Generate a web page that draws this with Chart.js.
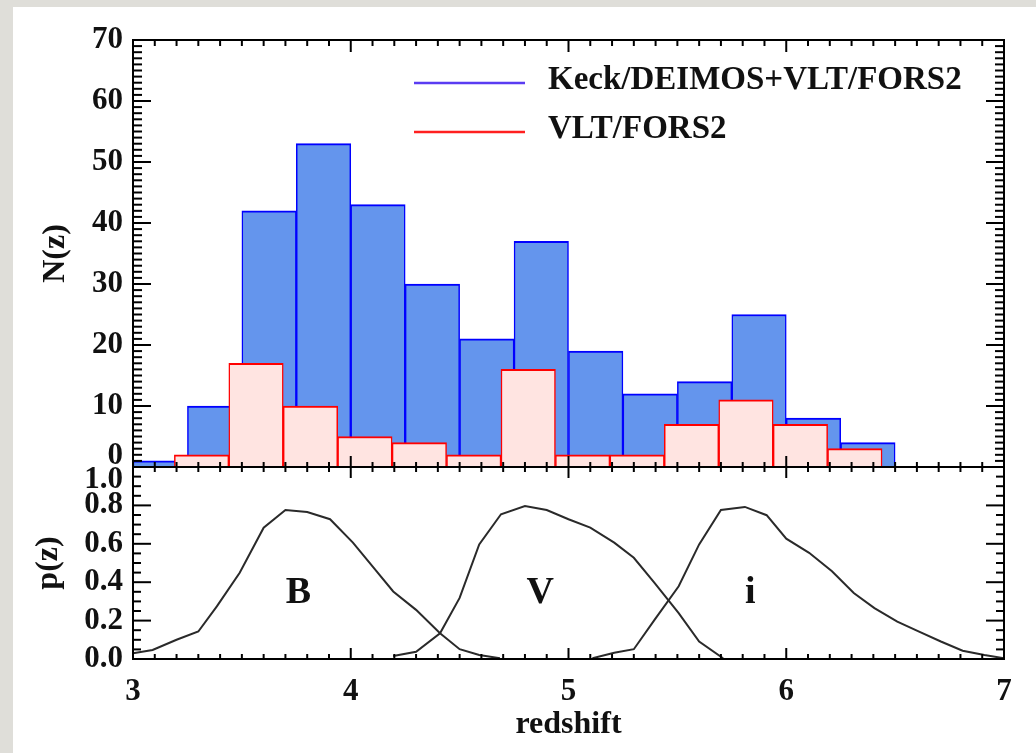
<!DOCTYPE html>
<html>
<head>
<meta charset="utf-8">
<title>N(z) and p(z)</title>
<script src="https://cdn.jsdelivr.net/npm/chart.js@4.4.1/dist/chart.umd.min.js"></script>
<style>
  html, body { margin: 0; padding: 0; background: #dfded9; }
  #wrap { position: relative; width: 1036px; height: 753px; }
</style>
</head>
<body>
<div id="wrap"><canvas id="nz" width="1036" height="753"></canvas></div>
<script>
// Histogram: all spectroscopic redshifts (bin centres, width 0.25)
const allBinCentres = [3.125, 3.375, 3.625, 3.875, 4.125, 4.375, 4.625, 4.875, 5.125, 5.375, 5.625, 5.875, 6.125, 6.375];
const allCounts     = [1, 10, 42, 53, 43, 30, 21, 37, 19, 12, 14, 25, 8, 4];

// Histogram: VLT/FORS2 only (bins shifted a little)
const forsBinCentres = [3.315, 3.565, 3.815, 4.065, 4.315, 4.565, 4.815, 5.065, 5.315, 5.565, 5.815, 6.065, 6.315];
const forsCounts     = [2, 17, 10, 5, 4, 2, 16, 2, 2, 7, 11, 7, 3];

// Selection functions p(z) for the B, V and i dropouts
const bZ = [3.00, 3.09, 3.20, 3.30, 3.385, 3.49, 3.60, 3.70, 3.80, 3.905, 4.01, 4.10, 4.195, 4.30, 4.41, 4.50, 4.59, 4.685];
const bP = [0.03, 0.047, 0.10, 0.143, 0.274, 0.449, 0.684, 0.776, 0.766, 0.728, 0.606, 0.483, 0.352, 0.256, 0.134, 0.051, 0.021, 0.004];
const vZ = [4.195, 4.30, 4.41, 4.50, 4.59, 4.69, 4.80, 4.90, 5.00, 5.10, 5.21, 5.30, 5.395, 5.506, 5.60, 5.71];
const vP = [0.016, 0.038, 0.134, 0.318, 0.597, 0.754, 0.797, 0.776, 0.728, 0.684, 0.606, 0.527, 0.396, 0.239, 0.091, 0.004];
const iZ = [5.11, 5.21, 5.30, 5.395, 5.506, 5.60, 5.70, 5.81, 5.91, 6.00, 6.105, 6.21, 6.31, 6.405, 6.51, 6.61, 6.71, 6.81, 6.91, 7.00];
const iP = [0.004, 0.033, 0.051, 0.204, 0.379, 0.597, 0.776, 0.792, 0.749, 0.627, 0.553, 0.457, 0.344, 0.265, 0.195, 0.143, 0.091, 0.043, 0.021, 0.004];

// filter names written next to their curves (z, p of text baseline)
const filterNames = ['B', 'V', 'i'];
const filterNameZ = [3.76, 4.87, 5.835];
const filterNameP = [0.293, 0.293, 0.293];

// tick values
const xTickValues = [3, 4, 5, 6, 7];
const nTickValues = [0, 10, 20, 30, 40, 50, 60, 70];
const pTickValues = [0, 0.2, 0.4, 0.6, 0.8, 1.0];

const FONT = "'Liberation Serif', 'Times New Roman', serif";
const INK = '#111';
const legendColors = ['#5a3cf2', '#ff2020'];

function pairs(xs, ys) {
  return xs.map((x, i) => ({ x, y: ys[i] }));
}

function setTicks(values) {
  return scale => { scale.ticks = values.map(v => ({ value: v })); };
}

// grey page with the white card behind the figure
const paperPlugin = {
  id: 'paper',
  beforeDraw(chart) {
    const { ctx, width, height } = chart;
    ctx.save();
    ctx.fillStyle = '#dfded9';
    ctx.fillRect(0, 0, width, height);
    ctx.fillStyle = '#ffffff';
    ctx.fillRect(13, 7, width - 13, height - 7);
    ctx.restore();
  }
};

// box round both panels, with major and minor tick marks on every side
const framePlugin = {
  id: 'frame',
  afterDatasetsDraw(chart) {
    const { ctx, chartArea: a, scales } = chart;
    const x = scales.x, yN = scales.yN, yP = scales.yP;
    const mid = yN.bottom;
    const seg = (x0, y0, x1, y1) => { ctx.beginPath(); ctx.moveTo(x0, y0); ctx.lineTo(x1, y1); ctx.stroke(); };
    ctx.save();
    ctx.strokeStyle = '#000';
    ctx.lineWidth = 2;
    ctx.strokeRect(a.left, a.top, a.right - a.left, a.bottom - a.top);
    seg(a.left, mid, a.right, mid);

    // redshift ticks every 0.1
    for (let k = 30; k <= 70; k++) {
      const px = x.getPixelForValue(k / 10);
      const major = k % 10 === 0;
      const L = major ? 12 : 6;
      seg(px, a.top, px, a.top + L);
      seg(px, mid - L + 1, px, mid + L - 1);
      seg(px, a.bottom, px, a.bottom - L + 1);
    }
    // N(z) ticks every 1
    for (let v = 0; v <= 70; v++) {
      const py = yN.getPixelForValue(v);
      const L = v % 10 === 0 ? 18 : 9;
      seg(a.left, py, a.left + L, py);
      seg(a.right, py, a.right - L, py);
    }
    // p(z) ticks every 0.05
    for (let k = 0; k <= 20; k++) {
      const py = yP.getPixelForValue(k / 20);
      const L = k % 4 === 0 ? 18 : 8;
      seg(a.left, py, a.left + L, py);
      seg(a.right, py, a.right - L, py);
    }
    ctx.restore();
  }
};

// legend inside the top panel and the filter names in the bottom one
const notesPlugin = {
  id: 'notes',
  afterDraw(chart) {
    const { ctx, chartArea: a, scales } = chart;
    ctx.save();
    [0, 1].forEach(i => {
      const y = a.top + 43 + i * 49;
      ctx.strokeStyle = legendColors[i];
      ctx.lineWidth = 2.5;
      ctx.beginPath();
      ctx.moveTo(a.left + 281, y);
      ctx.lineTo(a.left + 392, y);
      ctx.stroke();
      ctx.fillStyle = INK;
      ctx.font = `bold 33px ${FONT}`;
      ctx.textAlign = 'left';
      ctx.textBaseline = 'alphabetic';
      ctx.fillText(chart.data.datasets[i].label, a.left + 415, y + 6);
    });

    ctx.font = `bold 38px ${FONT}`;
    ctx.textAlign = 'center';
    filterNames.forEach((name, i) => {
      ctx.fillText(name, scales.x.getPixelForValue(filterNameZ[i]), scales.yP.getPixelForValue(filterNameP[i]));
    });
    ctx.restore();
  }
};

const tickFont = { family: FONT, size: 31, weight: 'bold' };
const titleFont = { family: FONT, size: 32, weight: 'bold' };

const curve = (label, zs, ps) => ({
  type: 'line',
  label,
  data: pairs(zs, ps),
  xAxisID: 'x',
  yAxisID: 'yP',
  borderColor: '#2a2a2a',
  borderWidth: 2,
  pointRadius: 0,
  tension: 0,
  fill: false,
  order: 0
});

new Chart(document.getElementById('nz'), {
  type: 'bar',
  data: {
    datasets: [
      {
        label: 'Keck/DEIMOS+VLT/FORS2',
        data: pairs(allBinCentres, allCounts),
        xAxisID: 'x',
        yAxisID: 'yN',
        backgroundColor: '#6495ed',
        borderColor: '#0000ff',
        borderWidth: { top: 2, left: 1.5, right: 1.5, bottom: 0 },
        barPercentage: 1,
        categoryPercentage: 1,
        grouped: false,
        order: 3
      },
      {
        label: 'VLT/FORS2',
        data: pairs(forsBinCentres, forsCounts),
        xAxisID: 'x2',
        yAxisID: 'yN',
        backgroundColor: '#ffe4e1',
        borderColor: '#ff0000',
        borderWidth: { top: 2, left: 1.5, right: 1.5, bottom: 0 },
        barPercentage: 1,
        categoryPercentage: 1,
        grouped: false,
        order: 2
      },
      curve('B', bZ, bP),
      curve('V', vZ, vP),
      curve('i', iZ, iP)
    ]
  },
  options: {
    responsive: false,
    animation: false,
    layout: { padding: { left: 13, top: 40, right: 32, bottom: 0 } },
    plugins: { legend: { display: false }, tooltip: { enabled: false } },
    scales: {
      x: {
        type: 'linear',
        position: 'bottom',
        min: 3,
        max: 7,
        offset: false,
        afterBuildTicks: setTicks(xTickValues),
        afterFit: s => { s.height = 94; },
        grid: { display: false, drawTicks: false, offset: false },
        border: { display: false },
        ticks: { padding: 14, color: INK, font: tickFont, maxRotation: 0, autoSkip: false },
        title: { display: true, text: 'redshift', color: INK, font: titleFont, padding: { top: 0, bottom: 9 } }
      },
      x2: {
        type: 'linear',
        display: false,
        min: 3,
        max: 7,
        offset: false,
        afterBuildTicks: setTicks(xTickValues)
      },
      yP: {
        type: 'linear',
        position: 'left',
        stack: 'panels',
        stackWeight: 192,
        min: 0,
        max: 1,
        afterBuildTicks: setTicks(pTickValues),
        afterFit: s => { s.width = 120; },
        grid: { display: false, drawTicks: false },
        border: { display: false },
        ticks: {
          padding: 10,
          autoSkip: false,
          color: INK,
          font: c => ({ family: FONT, size: 31, weight: 'bold', lineHeight: c.tick && c.tick.value === 1 ? 0.85 : 1.2 }),
          callback: v => (v === 1 ? ['', v.toFixed(1)] : v.toFixed(1))
        },
        title: { display: true, text: 'p(z)', color: INK, font: titleFont, padding: { top: 17, bottom: 0 } }
      },
      yN: {
        type: 'linear',
        position: 'left',
        stack: 'panels',
        stackWeight: 427,
        min: 0,
        max: 70,
        afterBuildTicks: setTicks(nTickValues),
        afterFit: s => { s.width = 120; },
        grid: { display: false, drawTicks: false },
        border: { display: false },
        ticks: {
          padding: 10,
          autoSkip: false,
          color: INK,
          font: c => ({ family: FONT, size: 31, weight: 'bold', lineHeight: c.tick && c.tick.value === 0 ? 0.7 : 1.2 }),
          callback: v => (v === 0 ? ['0', ''] : String(v))
        },
        title: { display: true, text: 'N(z)', color: INK, font: titleFont, padding: { top: 24, bottom: 0 } }
      }
    }
  },
  plugins: [paperPlugin, framePlugin, notesPlugin]
});
</script>
</body>
</html>
